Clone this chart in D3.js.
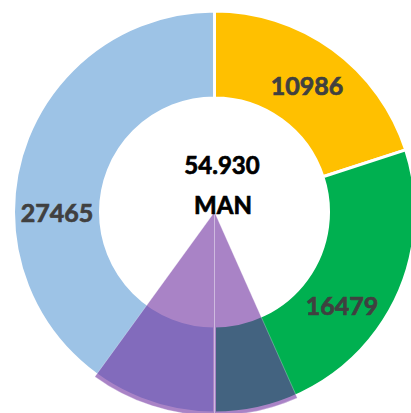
<!DOCTYPE html>
<html>
<head>
<meta charset="utf-8">
<script src="https://cdnjs.cloudflare.com/ajax/libs/d3/7.8.5/d3.min.js"></script>
<style>
  html, body { margin: 0; padding: 0; background: #fff; overflow: hidden; }
  svg { display: block; }
</style>
</head>
<body>
<div id="chart"></div>
<script>
// donut slices (clockwise from 12 o'clock)
var categories = ["A", "B", "C"];
var values = [10986, 16479, 27465];
var colors = ["#FFC000", "#00B050", "#9DC3E6"];

// overlaid pie: only the middle two slices are filled
var overlayValues = [26, 4, 6, 24];
var overlayVisible = [false, true, true, false];

var totalLabel = "54.930";
var unitLabel = "MAN";

var width = 411, height = 413;
var cx = 214.5, cy = 212;
var outerR = 201, innerR = 114;

var svg = d3.select("#chart").append("svg")
    .attr("width", width)
    .attr("height", height);

var g = svg.append("g").attr("transform", "translate(" + cx + "," + cy + ")");

var pie = d3.pie().sort(null).value(function(d) { return d; });
var arc = d3.arc().innerRadius(innerR).outerRadius(outerR);

var slices = pie(values);

g.selectAll("path.slice")
    .data(slices)
    .enter().append("path")
    .attr("class", "slice")
    .attr("d", arc)
    .attr("fill", function(d, i) { return colors[i]; })
    .attr("stroke", "#fff")
    .attr("stroke-width", 3)
    .attr("stroke-linejoin", "miter");

// semi transparent purple pie on top
var overArc = d3.arc().innerRadius(0).outerRadius(outerR + 2.5);
g.selectAll("path.over")
    .data(pie(overlayValues))
    .enter().append("path")
    .attr("class", "over")
    .attr("d", overArc)
    .attr("fill", function(d, i) { return overlayVisible[i] ? "#7030A0" : "none"; })
    .attr("fill-opacity", 0.6)
    .attr("stroke", function(d, i) { return overlayVisible[i] ? "#fff" : "none"; })
    .attr("stroke-width", 0.8)
    .attr("stroke-opacity", 0.35);

// value labels
g.selectAll("text.val")
    .data(slices)
    .enter().append("text")
    .attr("class", "val")
    .attr("x", function(d) { return arc.centroid(d)[0]; })
    .attr("y", function(d) { return arc.centroid(d)[1]; })
    .attr("text-anchor", "middle")
    .attr("dominant-baseline", "central")
    .attr("font-family", "Lato, 'Open Sans', sans-serif")
    .attr("font-weight", "bold")
    .attr("font-size", 25)
    .attr("fill", "#404040")
    .attr("stroke", "#404040")
    .attr("stroke-width", 0.7)
    .text(function(d) { return d.data; });

// centre text
g.append("text")
    .attr("x", 7.5).attr("y", -38)
    .attr("text-anchor", "middle")
    .attr("font-family", "Lato, 'Open Sans', sans-serif")
    .attr("font-weight", "bold")
    .attr("font-size", 24)
    .attr("fill", "#000")
    .attr("stroke", "#000")
    .attr("stroke-width", 0.7)
    .text(totalLabel);

g.append("text")
    .attr("x", 8.5).attr("y", 2)
    .attr("text-anchor", "middle")
    .attr("font-family", "Lato, 'Open Sans', sans-serif")
    .attr("font-weight", "bold")
    .attr("font-size", 24)
    .attr("fill", "#000")
    .attr("stroke", "#000")
    .attr("stroke-width", 0.7)
    .text(unitLabel);
</script>
</body>
</html>
